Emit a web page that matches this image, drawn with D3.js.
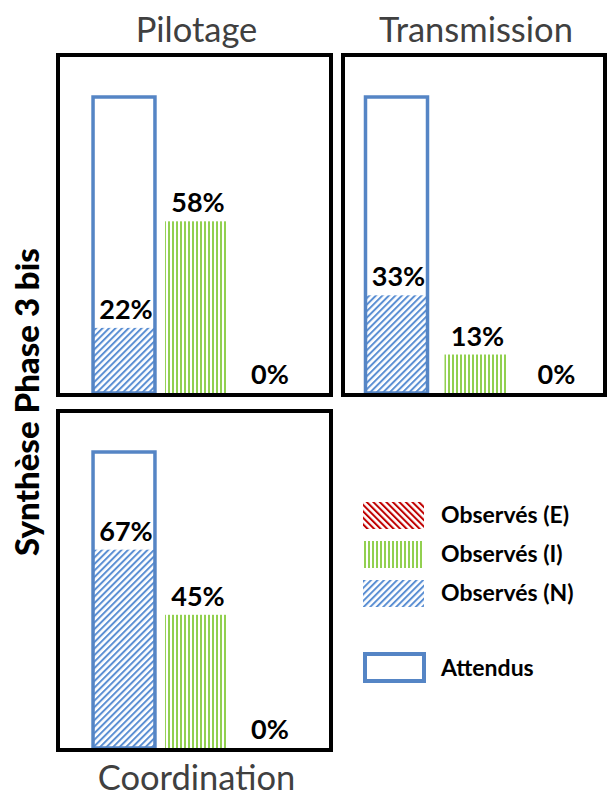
<!DOCTYPE html>
<html>
<head>
<meta charset="utf-8">
<script src="https://cdn.jsdelivr.net/npm/d3@7"></script>
<style>
  body { margin: 0; background: #fff; }
  svg { display: block; font-family: Lato, "Noto Sans", sans-serif; }
</style>
</head>
<body>
<div id="chart"></div>
<script>
// Data
var panels = ["Pilotage", "Transmission", "Coordination"];
var categories = ["N", "I", "E"];
var attendus = [100, 100, 100];
var observesN = [22, 33, 67];
var observesI = [58, 13, 45];
var observesE = [0, 0, 0];
var legendLabels = ["Observés (E)", "Observés (I)", "Observés (N)"];
var legendAttendus = "Attendus";
var yTitle = "Synthèse Phase 3 bis";

var width = 608, height = 800;

var svg = d3.select("#chart").append("svg")
    .attr("width", width)
    .attr("height", height);

// Hatch patterns
var defs = svg.append("defs");
function hatch(id, color, size, angle, lw) {
    var p = defs.append("pattern")
        .attr("id", id)
        .attr("patternUnits", "userSpaceOnUse")
        .attr("width", size)
        .attr("height", size)
        .attr("patternTransform", "rotate(" + angle + ")");
    p.append("rect").attr("width", size).attr("height", size).attr("fill", "#fff");
    p.append("rect").attr("x", 0).attr("width", lw).attr("height", size).attr("fill", color);
}
var blue = "#5585c5", green = "#92d050", red = "#c00000";
hatch("hatchN", "#5b8fd3", 4.6, 45, 2);
hatch("hatchI", green, 4, 0, 2);
hatch("hatchE", red, 4.6, -45, 2);
var fills = { N: "url(#hatchN)", I: "url(#hatchI)", E: "url(#hatchE)" };

// Panel frames: box [x0, y0, x1, y1] and bar band range
var frames = [
    { box: [58, 55, 331, 395], band: [88, 304], title: "top" },
    { box: [343, 55, 605, 395], band: [357, 594], title: "top" },
    { box: [58, 411, 331, 750], band: [88, 304], title: "bottom" }
];

panels.forEach(function (name, i) {
    var f = frames[i];
    var base = f.box[3] - 2;
    var x = d3.scaleBand().domain(categories).range(f.band)
        .paddingInner(i === 1 ? 0.215 : 0.14)
        .paddingOuter(i === 1 ? 0.1075 : 0.07);
    var y = d3.scaleLinear().domain([0, 100]).range([base, base - 296]);
    var g = svg.append("g");

    var vals = { N: observesN[i], I: observesI[i], E: observesE[i] };

    // observed bars
    g.selectAll(".bar")
        .data(categories)
        .enter().append("rect")
        .attr("class", "bar")
        .attr("x", function (d) { return x(d); })
        .attr("width", x.bandwidth())
        .attr("y", function (d) { return y(vals[d]); })
        .attr("height", function (d) { return base - y(vals[d]); })
        .attr("fill", function (d) { return fills[d]; });

    // expected (outline)
    g.append("rect")
        .attr("x", x("N"))
        .attr("width", x.bandwidth())
        .attr("y", y(attendus[i]))
        .attr("height", base - y(attendus[i]))
        .attr("fill", "none")
        .attr("stroke", blue)
        .attr("stroke-width", 3.5);

    // labels
    g.selectAll(".lbl")
        .data(categories)
        .enter().append("text")
        .attr("class", "lbl")
        .attr("x", function (d) { return x(d) + x.bandwidth() / 2 + 2; })
        .attr("y", function (d) { return y(vals[d]) - 9; })
        .attr("text-anchor", "middle")
        .style("font-size", "27px")
        .style("font-weight", "bold")
        .attr("fill", "#000")
        .text(function (d) { return vals[d] + "%"; });

    // frame
    svg.append("rect")
        .attr("x", f.box[0])
        .attr("y", f.box[1])
        .attr("width", f.box[2] - f.box[0])
        .attr("height", f.box[3] - f.box[1])
        .attr("fill", "none")
        .attr("stroke", "#000")
        .attr("stroke-width", 4);

    // panel title
    svg.append("text")
        .attr("x", (f.box[0] + f.box[2]) / 2 + 2)
        .attr("y", f.title === "top" ? f.box[1] - 13 : f.box[3] + 40)
        .attr("text-anchor", "middle")
        .style("font-size", "34.5px")
        .attr("fill", "#404040")
        .text(name);
});

// Y title
svg.append("text")
    .attr("transform", "translate(39,402) rotate(-90)")
    .attr("text-anchor", "middle")
    .style("font-size", "33px")
    .style("font-weight", "900")
    .attr("fill", "#000")
    .text(yTitle);

// Legend
var legend = svg.append("g");
var legendKeys = ["E", "I", "N"];
var ly = d3.scaleBand().domain(legendKeys).range([499, 616]);
legend.selectAll(".sw")
    .data(legendKeys)
    .enter().append("rect")
    .attr("x", 363)
    .attr("y", function (d) { return ly(d) + 3; })
    .attr("width", 61)
    .attr("height", 27)
    .attr("fill", function (d) { return fills[d]; });
legend.selectAll(".lt")
    .data(legendKeys)
    .enter().append("text")
    .attr("x", 441)
    .attr("y", function (d, i) { return ly(d) + 24; })
    .style("font-size", "23px")
    .style("font-weight", "bold")
    .attr("fill", "#000")
    .text(function (d, i) { return legendLabels[i]; });
legend.append("rect")
    .attr("x", 365).attr("y", 654)
    .attr("width", 59).attr("height", 27)
    .attr("fill", "none")
    .attr("stroke", blue)
    .attr("stroke-width", 4);
legend.append("text")
    .attr("x", 441).attr("y", 676)
    .style("font-size", "23px")
    .style("font-weight", "bold")
    .attr("fill", "#000")
    .text(legendAttendus);
</script>
</body>
</html>
